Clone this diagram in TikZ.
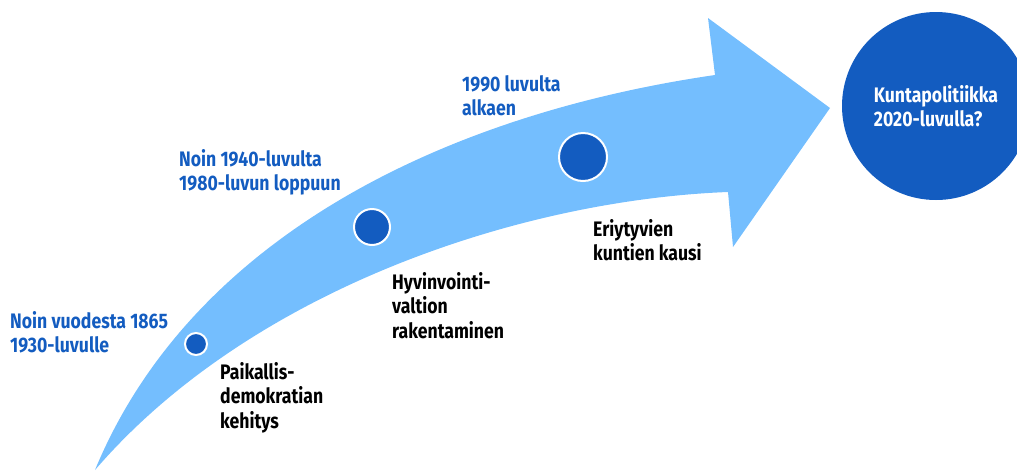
\documentclass[tikz,border=0pt]{standalone}
\usepackage{fontspec}
\setmainfont{Fira Sans}[FakeStretch=0.84]
\definecolor{arrowblue}{HTML}{74BEFE}
\definecolor{darkblue}{HTML}{135CC0}
\tikzset{
  dot/.style={circle, fill=darkblue, draw=white, line width=2pt, inner sep=0pt},
  era/.style={anchor=north west, inner sep=0pt, align=left, text=darkblue,
    font=\fontsize{21}{24.5}\selectfont\bfseries},
  theme/.style={era, text=black},
}
\begin{document}
\begin{tikzpicture}[x=1pt, y=-1pt]
    \useasboundingbox (0,0) rectangle (1017,472);

    % Kaareva nuoli
    \fill[arrowblue] (95,470) .. controls (190,240) and (440,115) .. (715,75)
        -- (708,18) -- (830,108) -- (733,247) -- (728,192)
        .. controls (520,200) and (250,290) .. (95,470) -- cycle;

    % Tavoite
    \node[circle, fill=darkblue, minimum size=188pt, inner sep=0pt, align=left,
      text=white, font=\fontsize{21}{24.5}\selectfont\bfseries]
      (goal) at (936,106) {Kuntapolitiikka\\2020-luvulla?};

    % Vaiheet
    \node[dot, minimum size=22pt] (d1) at (196,344) {};
    \node[dot, minimum size=36pt] (d2) at (372,227) {};
    \node[dot, minimum size=48pt] (d3) at (583,157) {};

    % Aikajaksot
    \node[era] (t1) at (10,311) {Noin vuodesta 1865\\1930-luvulle};
    \node[era] (t2) at (179,149) {Noin 1940-luvulta\\1980-luvun loppuun};
    \node[era] (t3) at (462,75) {1990 luvulta\\alkaen};

    % Kaudet
    \node[theme] (k1) at (220,362) {Paikallis-\\demokratian\\kehitys};
    \node[theme] (k2) at (392,272) {Hyvinvointi-\\valtion\\rakentaminen};
    \node[theme] (k3) at (593,219) {Eriytyvien\\kuntien kausi};
\end{tikzpicture}
\end{document}
